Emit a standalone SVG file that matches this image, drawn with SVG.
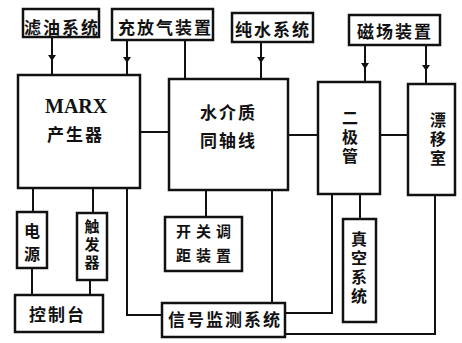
<svg xmlns="http://www.w3.org/2000/svg" width="462" height="343" viewBox="0 0 462 343">
<style>
.box{fill:#fff;stroke:#111;stroke-width:2.5}
.ln{fill:none;stroke:#111;stroke-width:2}
.t{font-family:"Noto Sans CJK SC","Noto Sans CJK JP",sans-serif;font-weight:bold;font-size:17px;fill:#111;letter-spacing:2px}
.v{font-family:"Noto Sans CJK SC","Noto Sans CJK JP",sans-serif;font-weight:bold;font-size:16px;fill:#111;text-anchor:middle;writing-mode:vertical-rl;text-orientation:upright;letter-spacing:3px}
.m{font-family:"Liberation Serif",serif;font-weight:bold;font-size:20px;fill:#111}
</style>
<defs>
<marker id="ar" viewBox="0 0 6 8" refX="3" refY="4" markerWidth="6" markerHeight="8" markerUnits="userSpaceOnUse" orient="auto-start-reverse">
<path d="M0,0 L6,4 L0,8 Z" fill="#111"/>
</marker>
</defs>
<rect width="462" height="343" fill="#fff"/>
<g id="connectors">
<path class="ln" d="M52 37 L52 58 L52 75" marker-mid="url(#ar)"/>
<path class="ln" d="M127 40 L127 60 L127 75" marker-mid="url(#ar)"/>
<path class="ln" d="M185 40 L185 79"/>
<path class="ln" d="M261 42 L261 60 L261 79" marker-mid="url(#ar)"/>
<path class="ln" d="M365 45 L365 66 L365 82" marker-mid="url(#ar)"/>
<path class="ln" d="M426 45 L426 68 L426 84" marker-mid="url(#ar)"/>
<path class="ln" d="M140 132 H169"/>
<path class="ln" d="M288 135 H318"/>
<path class="ln" d="M380 135 H408"/>
<path class="ln" d="M33 188 V212"/>
<path class="ln" d="M93 188 V213"/>
<path class="ln" d="M32 268 V295"/>
<path class="ln" d="M90 280 V295"/>
<path class="ln" d="M127 188 V315 H162"/>
<path class="ln" d="M206 190 V217"/>
<path class="ln" d="M272 190 V303"/>
<path class="ln" d="M332 194 V313 H285"/>
<path class="ln" d="M360 194 V219"/>
<path class="ln" d="M435 195 V334 H285"/>
</g>
<g id="n1"><rect class="box" x="23" y="9" width="76" height="28"/><text class="t" x="24" y="34">滤油系统</text></g>
<g id="n2"><rect class="box" x="112" y="9" width="101" height="31"/><text class="t" x="118" y="34">充放气装置</text></g>
<g id="n3"><rect class="box" x="232" y="13" width="81" height="29"/><text class="t" x="235" y="36">纯水系统</text></g>
<g id="n4"><rect class="box" x="349" y="15" width="91" height="30"/><text class="t" x="357" y="38">磁场装置</text></g>
<g id="n5"><rect class="box" x="18" y="75" width="122" height="113"/><text class="m" x="45" y="113">MARX</text><text class="t" x="47" y="141">产生器</text></g>
<g id="n6"><rect class="box" x="169" y="79" width="119" height="111"/><text class="t" x="200" y="119">水介质</text><text class="t" x="200" y="147">同轴线</text></g>
<g id="n7"><rect class="box" x="318" y="82" width="62" height="112"/><text class="v" x="350" y="138">二极管</text></g>
<g id="n8"><rect class="box" x="408" y="84" width="47" height="111"/><text class="v" x="438" y="140">漂移室</text></g>
<g id="n9"><rect class="box" x="17" y="212" width="30" height="56"/><text class="v" x="32" y="246" style="letter-spacing:7px">电源</text></g>
<g id="n10"><rect class="box" x="77" y="213" width="30" height="67"/><text class="v" x="92" y="246" style="font-size:15px">触发器</text></g>
<g id="n11"><rect class="box" x="15" y="295" width="88" height="37"/><text class="t" x="29" y="321">控制台</text></g>
<g id="n12"><rect class="box" x="165" y="217" width="77" height="54"/><text class="t" x="176" y="237" style="font-size:15px;letter-spacing:5px">开关调</text><text class="t" x="176" y="261" style="font-size:15px;letter-spacing:5px">距装置</text></g>
<g id="n13"><rect class="box" x="162" y="303" width="123" height="34"/><text class="t" x="168" y="326">信号监测系统</text></g>
<g id="n14"><rect class="box" x="343" y="219" width="33" height="103"/><text class="v" x="359" y="269">真空系统</text></g>
</svg>
